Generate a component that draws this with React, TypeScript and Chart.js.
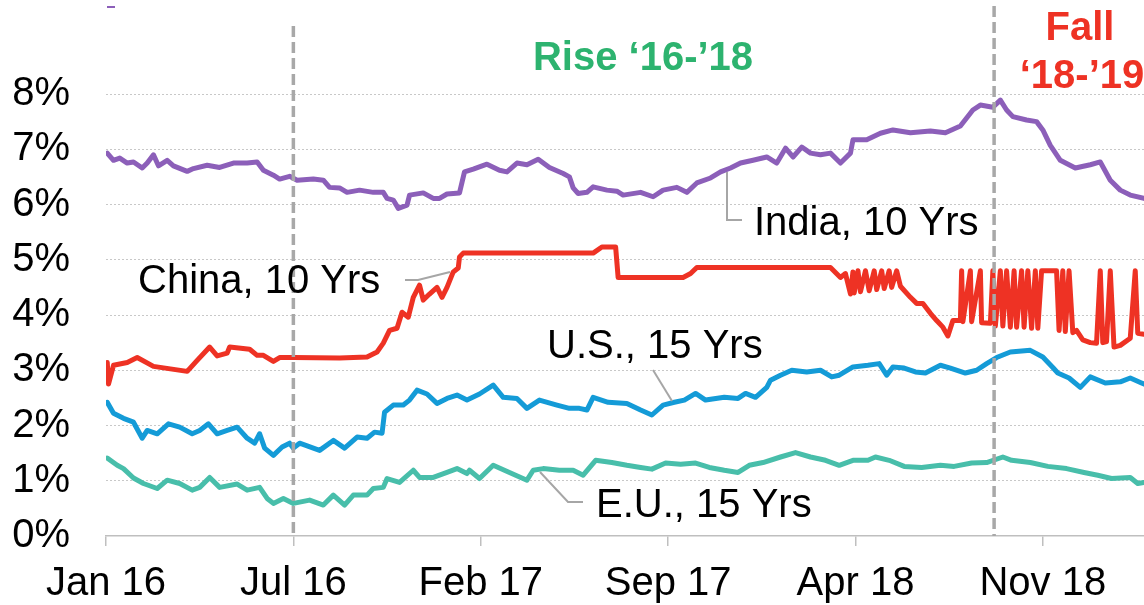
import { useEffect, useRef } from 'react';
import { Chart, registerables } from 'chart.js';

Chart.register(...registerables);

// ---- Data (x = trading-day index from Jan 2016) ----
const xTickDays = [0, 150, 300, 450, 600, 750];
const xTickLabels = ['Jan 16', 'Jul 16', 'Feb 17', 'Sep 17', 'Apr 18', 'Nov 18'];
const lastDay = 831;
const markerDays = [150, 711];

const indiaDays = [
  1, 6, 11, 17, 22, 29, 33, 38, 42, 49,
  54, 65, 70, 81, 91, 102, 113, 121, 126, 134,
  139, 147, 153, 166, 174, 179, 187, 193, 203, 214,
  222, 225, 230, 234, 241, 243, 254, 262, 267, 273,
  283, 287, 294, 305, 315, 321, 329, 337, 346, 355,
  366, 371, 374, 378, 385, 390, 401, 409, 414, 428,
  438, 446, 457, 465, 473, 484, 492, 500, 508, 518,
  529, 537, 544, 550, 557, 564, 572, 580, 588, 596,
  598, 609, 620, 630, 644, 660, 672, 684, 694, 700,
  710, 716, 721, 726, 737, 745, 750, 756, 764, 776,
  788, 796, 804, 812, 820, 831,
];
const indiaYield = [
  6.93, 6.80, 6.84, 6.75, 6.77, 6.66, 6.75, 6.90, 6.70, 6.80,
  6.70, 6.60, 6.65, 6.71, 6.67, 6.75, 6.75, 6.77, 6.62, 6.53,
  6.46, 6.51, 6.44, 6.46, 6.44, 6.31, 6.30, 6.22, 6.26, 6.22,
  6.22, 6.11, 6.08, 5.93, 5.99, 6.17, 6.21, 6.11, 6.11, 6.19,
  6.21, 6.59, 6.64, 6.73, 6.62, 6.59, 6.75, 6.72, 6.82, 6.67,
  6.56, 6.50, 6.30, 6.20, 6.22, 6.32, 6.26, 6.24, 6.17, 6.22,
  6.14, 6.26, 6.31, 6.22, 6.39, 6.48, 6.59, 6.66, 6.75, 6.80,
  6.86, 6.75, 7.02, 6.86, 7.04, 6.93, 6.90, 6.93, 6.75, 6.93,
  7.17, 7.17, 7.29, 7.35, 7.30, 7.33, 7.30, 7.42, 7.71, 7.80,
  7.76, 7.89, 7.71, 7.59, 7.53, 7.50, 7.35, 7.07, 6.80, 6.66,
  6.72, 6.77, 6.44, 6.26, 6.17, 6.11,
];

const chinaDays = [
  1, 2, 6, 17, 25, 38, 65, 73, 83, 89,
  97, 99, 115, 121, 126, 134, 139, 150, 187, 209,
  217, 222, 227, 233, 237, 242, 246, 251, 254, 259,
  265, 269, 273, 278, 282, 283, 286, 390, 397, 408,
  410, 462, 468, 473, 580, 588, 592, 596, 598, 599,
  602, 604, 608, 611, 615, 617, 621, 623, 627, 629,
  633, 636, 644, 649, 654, 660, 665, 670, 674, 678,
  684, 685, 686, 692, 693, 700, 701, 708, 710, 712,
  716, 718, 721, 724, 727, 729, 733, 735, 738, 741,
  744, 746, 749, 761, 763, 766, 768, 771, 774, 777,
  782, 788, 793, 796, 798, 801, 804, 807, 812, 820,
  824, 826, 831,
];
const chinaYield = [
  3.14, 2.75, 3.09, 3.14, 3.23, 3.07, 2.98, 3.18, 3.42, 3.26,
  3.31, 3.42, 3.38, 3.27, 3.27, 3.16, 3.23, 3.23, 3.22, 3.24,
  3.33, 3.49, 3.72, 3.76, 4.05, 3.96, 4.32, 4.54, 4.27, 4.38,
  4.50, 4.32, 4.50, 4.78, 4.85, 5.05, 5.12, 5.12, 5.23, 5.23,
  4.68, 4.68, 4.75, 4.86, 4.86, 4.68, 4.75, 4.38, 4.78, 4.40,
  4.80, 4.42, 4.80, 4.44, 4.80, 4.46, 4.80, 4.48, 4.80, 4.50,
  4.80, 4.52, 4.32, 4.21, 4.21, 4.03, 3.90, 3.78, 3.62, 3.90,
  3.90, 4.80, 3.88, 4.80, 3.88, 4.80, 3.86, 3.85, 4.80, 3.80,
  4.80, 3.80, 4.80, 3.78, 4.80, 3.78, 4.80, 3.78, 4.80, 3.76,
  4.80, 3.76, 4.80, 4.80, 3.72, 4.80, 3.70, 4.80, 3.68, 3.72,
  3.55, 3.50, 3.49, 4.80, 3.50, 3.52, 4.80, 3.42, 3.45, 3.58,
  4.80, 3.67, 3.65,
];

const usDays = [
  1, 6, 14, 22, 29, 33, 41, 50, 59, 69,
  75, 82, 89, 97, 105, 113, 119, 123, 127, 134,
  141, 147, 150, 155, 166, 171, 182, 191, 201, 209,
  215, 221, 223, 230, 238, 243, 249, 257, 265, 273,
  281, 289, 299, 310, 318, 329, 337, 347, 361, 371,
  379, 385, 390, 402, 417, 428, 437, 446, 455, 463,
  472, 480, 495, 506, 512, 520, 529, 532, 540, 549,
  561, 572, 581, 587, 598, 610, 619, 625, 630, 639,
  648, 656, 668, 676, 688, 697, 705, 713, 724, 740,
  750, 758, 762, 771, 780, 788, 800, 812, 820, 829,
  831,
];
const usYield = [
  2.42, 2.22, 2.13, 2.06, 1.77, 1.91, 1.85, 2.03, 1.97, 1.85,
  1.91, 2.03, 1.85, 1.91, 1.97, 1.77, 1.68, 1.85, 1.59, 1.46,
  1.61, 1.68, 1.59, 1.68, 1.59, 1.55, 1.73, 1.59, 1.79, 1.77,
  1.88, 1.86, 2.24, 2.37, 2.37, 2.46, 2.64, 2.57, 2.40, 2.49,
  2.55, 2.46, 2.57, 2.73, 2.51, 2.49, 2.31, 2.46, 2.37, 2.31,
  2.31, 2.28, 2.51, 2.42, 2.40, 2.28, 2.19, 2.37, 2.42, 2.46,
  2.58, 2.46, 2.51, 2.49, 2.58, 2.51, 2.69, 2.82, 2.91, 3.00,
  2.97, 3.00, 2.88, 2.91, 3.06, 3.09, 3.12, 2.91, 3.06, 3.04,
  2.97, 2.95, 3.09, 3.04, 2.95, 3.00, 3.12, 3.23, 3.33, 3.36,
  3.24, 3.05, 2.95, 2.86, 2.69, 2.88, 2.77, 2.79, 2.86, 2.77,
  2.75,
];

const euDays = [
  1, 9, 14, 22, 30, 41, 49, 59, 69, 75,
  83, 91, 105, 113, 123, 129, 134, 142, 150, 163,
  174, 182, 191, 198, 209, 214, 222, 225, 235, 246,
  251, 262, 273, 281, 289, 291, 299, 310, 323, 337,
  342, 350, 363, 374, 382, 392, 405, 417, 428, 437,
  448, 460, 472, 483, 495, 506, 515, 526, 540, 552,
  564, 576, 587, 598, 610, 616, 627, 639, 653, 668,
  679, 693, 705, 718, 725, 740, 754, 769, 783, 794,
  805, 820, 826, 831,
];
const euYield = [
  1.41, 1.28, 1.22, 1.05, 0.95, 0.86, 1.01, 0.95, 0.83, 0.88,
  1.06, 0.88, 0.94, 0.83, 0.88, 0.68, 0.59, 0.68, 0.59, 0.65,
  0.56, 0.74, 0.56, 0.74, 0.74, 0.86, 0.88, 1.04, 0.97, 1.19,
  1.06, 1.06, 1.15, 1.22, 1.13, 1.19, 1.04, 1.28, 1.15, 1.01,
  1.19, 1.22, 1.19, 1.19, 1.10, 1.37, 1.33, 1.28, 1.24, 1.21,
  1.32, 1.30, 1.32, 1.24, 1.19, 1.15, 1.28, 1.33, 1.43, 1.51,
  1.43, 1.37, 1.28, 1.37, 1.37, 1.43, 1.37, 1.26, 1.24, 1.28,
  1.26, 1.32, 1.33, 1.43, 1.37, 1.33, 1.26, 1.22, 1.15, 1.10,
  1.04, 1.06, 0.95, 0.97,
];

const seriesNames = ['India, 10 Yrs', 'China, 10 Yrs', 'U.S., 15 Yrs', 'E.U., 15 Yrs'];
const seriesColors = ['#8C5FB9', '#EE3224', '#149BD7', '#48BEAA'];

const FONT = "'Liberation Sans', Arial, Helvetica, sans-serif";

function toPoints(days: number[], vals: number[]) {
  return days.map((d, i) => ({ x: d, y: vals[i] }));
}

const annotationPlugin = {
  id: 'annotations',
  afterDatasetsDraw(chart: any) {
    const { ctx, chartArea, scales } = chart;
    ctx.save();
    // vertical dashed period markers
    const markerTops = [26, 6];
    ctx.strokeStyle = '#A8A8A8';
    ctx.lineWidth = 3.5;
    ctx.setLineDash([11, 5]);
    markerDays.forEach((d, i) => {
      const x = scales.x.getPixelForValue(d);
      ctx.beginPath();
      ctx.moveTo(x, markerTops[i]);
      ctx.lineTo(x, chartArea.bottom);
      ctx.stroke();
    });
    ctx.setLineDash([]);

    // leader lines
    ctx.strokeStyle = '#A6A6A6';
    ctx.lineWidth = 2;
    const leaders = [
      [[727, 172], [727, 220], [742, 220]],
      [[405, 280], [418, 280], [450, 272]],
      [[653, 370], [672, 401]],
      [[540, 472], [568, 502], [583, 502]],
    ];
    leaders.forEach((pts) => {
      ctx.beginPath();
      pts.forEach((p, i) => (i === 0 ? ctx.moveTo(p[0], p[1]) : ctx.lineTo(p[0], p[1])));
      ctx.stroke();
    });

    // series labels
    ctx.fillStyle = '#000';
    ctx.font = `40px ${FONT}`;
    ctx.textAlign = 'left';
    ctx.textBaseline = 'alphabetic';
    ctx.fillText(seriesNames[0], 754, 235);
    ctx.fillText(seriesNames[1], 138, 293);
    ctx.fillText(seriesNames[2], 547, 358);
    ctx.fillText(seriesNames[3], 596, 517);

    // period titles
    ctx.font = `bold 40px ${FONT}`;
    ctx.textAlign = 'center';
    ctx.fillStyle = '#2DB36F';
    ctx.fillText('Rise \u201816-\u201918', 643, 70);
    ctx.fillStyle = '#EE3224';
    ctx.fillText('Fall', 1080, 40);
    ctx.fillText('\u201818-\u201919', 1082, 88);

    // tiny legend remnant
    ctx.fillStyle = '#8C5FB9';
    ctx.fillRect(107, 6, 8, 2);
    ctx.restore();
  },
};

export default function App() {
  const canvasRef = useRef<HTMLCanvasElement | null>(null);

  useEffect(() => {
    if (!canvasRef.current) return;
    const allDays = [indiaDays, chinaDays, usDays, euDays];
    const allVals = [indiaYield, chinaYield, usYield, euYield];
    const chart = new Chart(canvasRef.current, {
      type: 'line',
      data: {
        datasets: seriesNames.map((name, i) => ({
          label: name,
          data: toPoints(allDays[i], allVals[i]),
          borderColor: seriesColors[i],
          backgroundColor: seriesColors[i],
          borderWidth: 5,
          pointRadius: 0,
          tension: 0,
          borderJoinStyle: 'round' as const,
          borderCapStyle: 'round' as const,
          fill: false,
        })),
      },
      options: {
        responsive: false,
        animation: false,
        devicePixelRatio: 1,
        layout: { padding: { top: 94, right: 0, bottom: 0, left: 0 } },
        plugins: { legend: { display: false }, tooltip: { enabled: false } },
        scales: {
          x: {
            type: 'linear',
            min: 0,
            max: lastDay,
            afterBuildTicks: (s: any) => {
              s.ticks = xTickDays.map((v) => ({ value: v }));
            },
            afterFit: (s: any) => {
              s.height = 69;
            },
            ticks: {
              autoSkip: false,
              maxRotation: 0,
              padding: 14,
              color: '#000',
              font: { family: FONT, size: 40 },
              callback: (_v: any, i: number) => xTickLabels[i],
            },
            grid: {
              drawOnChartArea: false,
              drawTicks: true,
              tickLength: 10,
              color: '#BFBFBF',
              lineWidth: 1.5,
            },
            border: { display: true, color: '#BFBFBF', width: 1.5 },
          },
          y: {
            min: 0,
            max: 8,
            afterFit: (s: any) => {
              s.width = 106;
            },
            ticks: {
              stepSize: 1,
              padding: 36,
              color: '#000',
              font: { family: FONT, size: 40 },
              callback: (v: any) => `${v}%`,
            },
            grid: {
              drawTicks: false,
              lineWidth: 1,
              color: (c: any) => (c.tick && c.tick.value === 0 ? 'rgba(0,0,0,0)' : '#C8C8C8'),
            },
            border: { display: false, dash: [2, 2] },
          },
        },
      },
      plugins: [annotationPlugin],
    } as any);
    return () => chart.destroy();
  }, []);

  return (
    <div style={{ position: 'absolute', left: 0, top: 0, width: 1144, height: 605, background: '#fff' }}>
      <canvas ref={canvasRef} width={1144} height={605} />
    </div>
  );
}
